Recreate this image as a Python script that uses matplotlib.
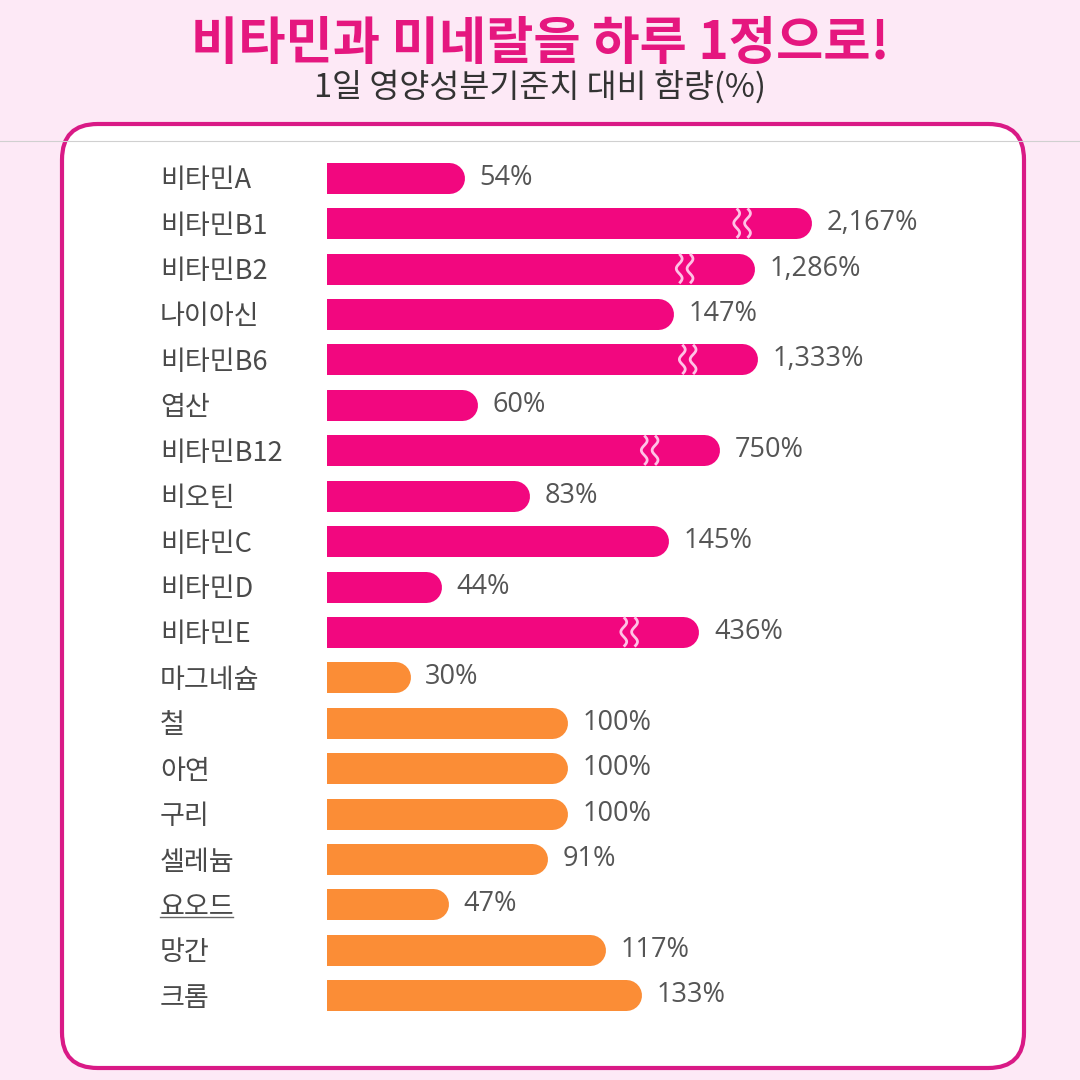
import numpy as np
import matplotlib
matplotlib.use("Agg")
import matplotlib.pyplot as plt
import matplotlib.patches as patches
from matplotlib.lines import Line2D

plt.rcParams['font.family'] = ['Noto Sans CJK KR', 'DejaVu Sans']

# data
vitamins = ['비타민A', '비타민B1', '비타민B2', '나이아신', '비타민B6', '엽산',
            '비타민B12', '비오틴', '비타민C', '비타민D', '비타민E']
vitamin_values = [54, 2167, 1286, 147, 1333, 60, 750, 83, 145, 44, 436]
minerals = ['마그네슘', '철', '아연', '구리', '셀레늄', '요오드', '망간', '크롬']
mineral_values = [30, 100, 100, 100, 91, 47, 117, 133]

title = '비타민과 미네랄을 하루 1정으로!'
subtitle = '1일 영양성분기준치 대비 함량(%)'

PINK = '#f2077f'
ORANGE = '#fb8d36'
BG = '#fde9f6'

# broken axis: linear up to 150%, strongly compressed above
BREAK = 150.0
SQUEEZE = 0.029


def fwd(x):
    x = np.asarray(x, dtype=float)
    return np.where(x <= BREAK, x, BREAK + SQUEEZE * (x - BREAK))


def inv(y):
    y = np.asarray(y, dtype=float)
    return np.where(y <= BREAK, y, BREAK + (y - BREAK) / SQUEEZE)


labels = vitamins + minerals
values = vitamin_values + mineral_values
colors = [PINK] * len(vitamins) + [ORANGE] * len(minerals)
rows = np.arange(len(labels))

W = H = 1080
fig = plt.figure(figsize=(10.8, 10.8), dpi=100, facecolor=BG)

# white card with magenta border
card = patches.FancyBboxPatch((62 / W, 1 - 1068 / H), (1024 - 62) / W, (1068 - 124) / H,
                              boxstyle='round,pad=0,rounding_size=0.033',
                              transform=fig.transFigure, facecolor='white',
                              edgecolor='#d91a86', linewidth=3.0, zorder=0.5)
fig.patches.append(card)
# faint screenshot seam
fig.lines.append(Line2D([0, 1], [1 - 141 / H, 1 - 141 / H], transform=fig.transFigure,
                        color='#d0d0d0', lw=0.8, zorder=1))

fig.text(0.5, 1 - 44 / H, title, ha='center', va='center', fontsize=37,
         fontweight='bold', color='#e5177f')
fig.text(0.5, 1 - 87 / H, subtitle, ha='center', va='center', fontsize=23.5,
         color='#333333')

row_px = (994 - 179) / 17
ax_left, ax_right = 327, 1000
ax_top = 179 - row_px / 2
ax_bot = 994 + row_px / 2
ax = fig.add_axes([ax_left / W, 1 - ax_bot / H, (ax_right - ax_left) / W, (ax_bot - ax_top) / H])
ax.set_zorder(2)
ax.set_facecolor('none')
ax.set_xscale('function', functions=(fwd, inv))
px_per_unit = 2.25
ax.set_xlim(0, float(inv((ax_right - ax_left) / px_per_unit)))
ax.set_ylim(len(labels) - 0.5, -0.5)
for s in ax.spines.values():
    s.set_visible(False)
ax.set_xticks([])
ax.set_yticks(rows)
ax.set_yticklabels(labels, fontsize=19.5, color='#4a4a4a')
ax.tick_params(axis='y', length=0, pad=(ax_left - 160) * 72 / 100)
for lbl in ax.get_yticklabels():
    lbl.set_ha('left')

bar_px = 31
bar_lw = bar_px * 72 / 100
cap_pt = bar_lw / 2
half_h = (bar_px / 2) / row_px

for i, (v, c) in enumerate(zip(values, colors)):
    ax.plot([0, v], [i, i], color=c, lw=bar_lw, solid_capstyle='round', zorder=2)
    ax.annotate(f'{v:,}%', xy=(v, i), xytext=(cap_pt + 11, 0), textcoords='offset points',
                ha='left', va='center', fontsize=19.5, color='#555555', annotation_clip=False,
                family=['Open Sans', 'DejaVu Sans'])
    if v > BREAK:
        # wavy break marks
        centre = float(fwd(v)) - 24
        t = np.linspace(0, 1, 40)
        yy = i - half_h + 2 * half_h * t
        wig = 1.3 * np.sin(3 * np.pi * t)
        for off in (-2.4, 2.4):
            ax.plot(inv(centre + off + wig), yy, color='#ffc2e6', lw=2.0, zorder=3,
                    solid_capstyle='butt')

# underline below 요오드, as in the source image
fig.lines.append(Line2D([160 / W, 233 / W], [1 - 917 / H, 1 - 917 / H],
                        transform=fig.transFigure, color='#666666', lw=1.0, zorder=3))

fig.savefig('out.png', dpi=100, facecolor=BG)
